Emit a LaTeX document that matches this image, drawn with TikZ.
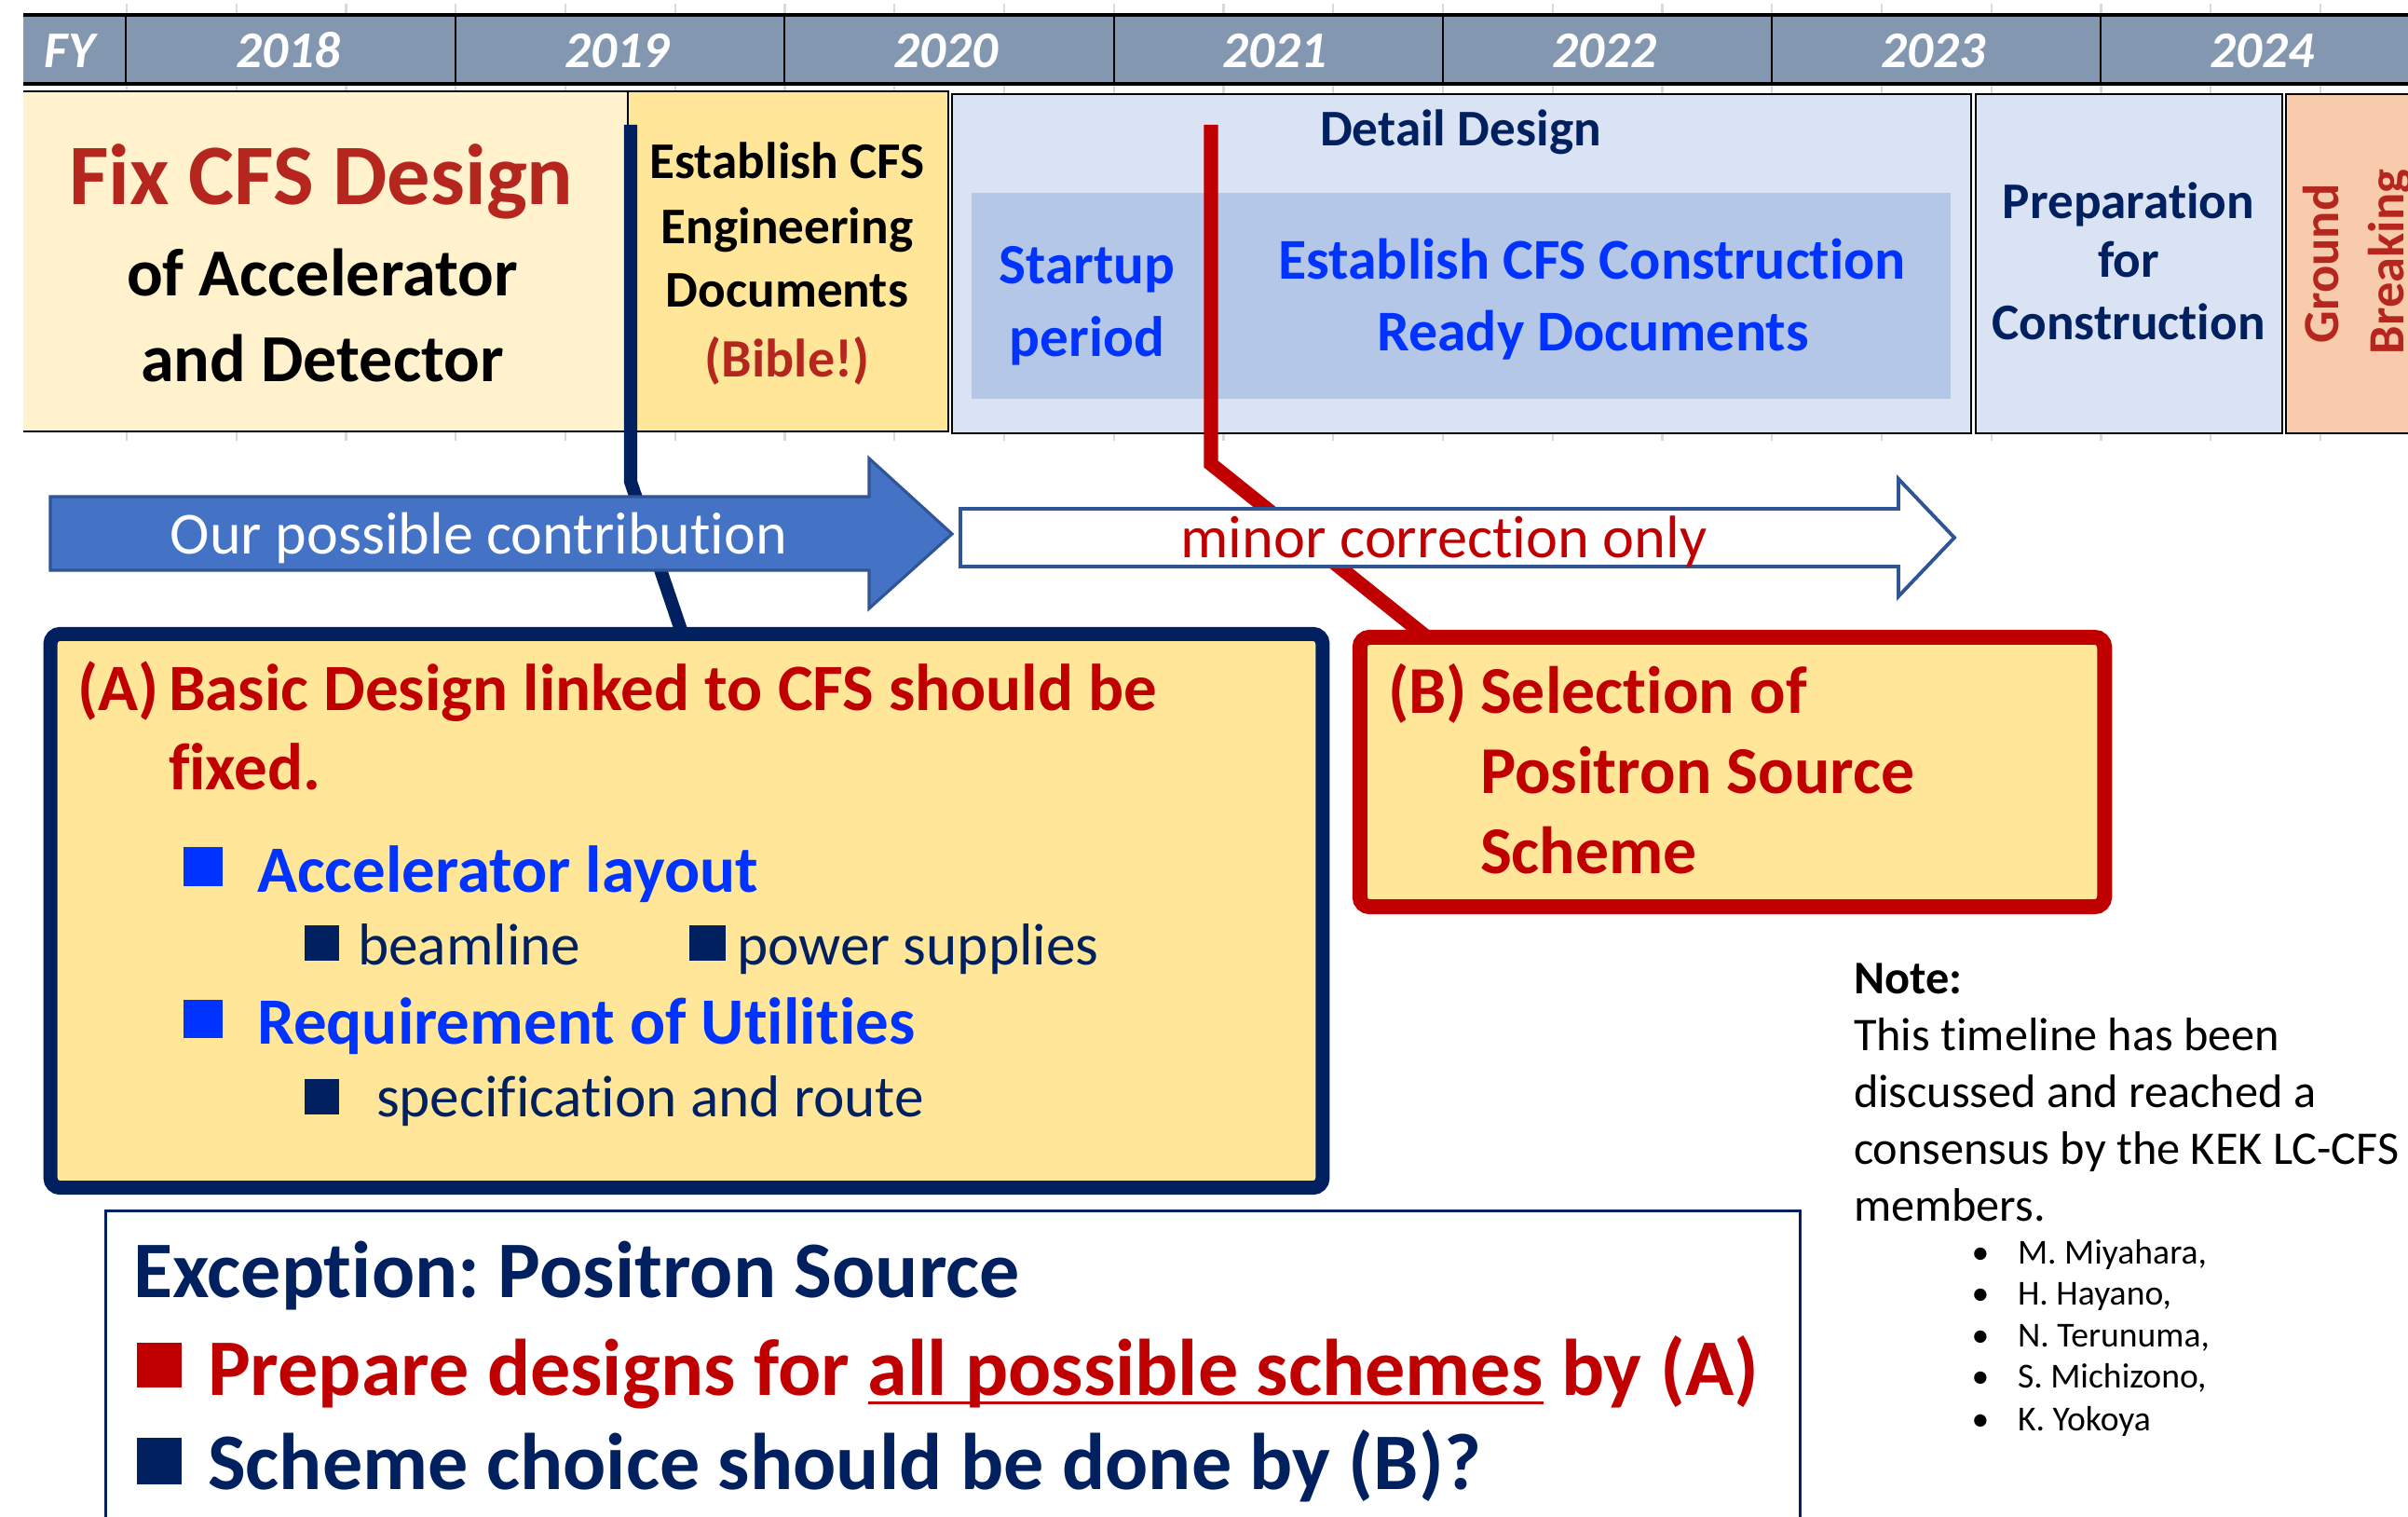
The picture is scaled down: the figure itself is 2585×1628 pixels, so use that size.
\documentclass[tikz,border=0pt]{standalone}
\usepackage{fontspec}
\setmainfont{Carlito}[Ligatures=NoCommon]
\frenchspacing
\definecolor{hdr}{HTML}{8497B0}
\definecolor{cream}{HTML}{FFF2CC}
\definecolor{gold}{HTML}{FFE699}
\definecolor{lblue}{HTML}{DAE3F3}
\definecolor{mblue}{HTML}{B4C7E7}
\definecolor{peach}{HTML}{F8CBAD}
\definecolor{navy}{HTML}{002060}
\definecolor{dred}{HTML}{C00000}
\definecolor{bred}{HTML}{B5261E}
\definecolor{vblue}{HTML}{0033FF}
\definecolor{ablue}{HTML}{4472C4}
\definecolor{aedge}{HTML}{2F5597}
\definecolor{gridc}{HTML}{D9D9D9}
\newcommand\myfs[1]{\fontsize{#1}{#1}\selectfont}
\newcommand\myul[1]{\setbox0\hbox{#1}\rlap{\rule[-2.9pt]{\wd0}{0.9pt}}\box0\relax}
\begin{document}
\begin{tikzpicture}[x=0.01cm,y=-0.01cm,
  txt/.style={inner sep=0pt,outer sep=0pt,anchor=base},
  txl/.style={inner sep=0pt,outer sep=0pt,anchor=base west},
  yr/.style={txt,font=\myfs{15.7}\bfseries\itshape,text=white},
  rowt/.style={txt,font=\myfs{15.7}\bfseries},
  bigt/.style={txl,font=\myfs{20.2}\bfseries},
  subt/.style={txl,font=\myfs{18}},
  botT/.style={txl,font=\myfs{24.5}\bfseries},
  notet/.style={txl,font=\myfs{14.3}},
  namet/.style={txl,font=\myfs{10.7}},
  bult/.style={txt,font=\myfs{10.7}}]
\useasboundingbox (0,0) rectangle (2585,1628);
\fill[white] (0,0) rectangle (2585,1628);
% faint spreadsheet grid
\foreach \k in {0,...,21}{\draw[gridc,line width=0.6pt] ({136+117.75*\k},4) -- ({136+117.75*\k},473);}
% header
\fill[hdr] (25,16) rectangle (2585,90);
\draw[line width=1pt] (25,16) -- (2585,16);
\draw[line width=1.2pt] (25,90) -- (2585,90);
\foreach \x in {135,489,842,1196,1549,1902,2255}{\draw[line width=0.7pt] (\x,16) -- (\x,90);}
\node[yr] (fy) at (75,73) {FY};
\foreach \yy [count=\i from 0] in {2018,...,2024}{\node[yr] (y\yy) at ({309+353.3*\i},73) {\yy};}
% timeline row boxes
\fill[cream] (25,98) rectangle (674,463);
\fill[gold] (674,98) rectangle (1018,463);
\draw[line width=0.7pt] (25,98) -- (1018,98) -- (1018,463) -- (25,463);
\draw[line width=0.5pt] (674,98) -- (674,463);
\filldraw[fill=lblue,line width=0.8pt] (1022,101) rectangle (2116,465);
\fill[mblue] (1043,207) rectangle (2094,428);
\filldraw[fill=lblue,line width=0.8pt] (2121,101) rectangle (2450,465);
\filldraw[fill=peach,line width=0.8pt] (2454,101) rectangle (2600,465);
% row texts
\node[txt,font=\myfs{26.3}\bfseries,text=bred] (fix1) at (345,220) {Fix CFS Design};
\node[txt,font=\myfs{20.5}\bfseries] (fix2) at (346,318) {of Accelerator};
\node[txt,font=\myfs{20.5}\bfseries] (fix3) at (346,410) {and Detector};
\node[rowt] (eng1) at (845,192) {Establish CFS};
\node[rowt] (eng2) at (845,262) {Engineering};
\node[rowt] (eng3) at (845,330) {Documents};
\node[txt,font=\myfs{16.5}\bfseries,text=bred] (eng4) at (845,405) {(Bible!)};
\node[rowt,text=navy] (det) at (1568,157) {Detail Design};
\node[txt,font=\myfs{17.4}\bfseries,text=vblue] (st1) at (1167,305) {Startup};
\node[txt,font=\myfs{17.4}\bfseries,text=vblue] (st2) at (1167,383) {period};
\node[txt,font=\myfs{17.6}\bfseries,text=vblue] (con1) at (1709,300) {Establish CFS Construction};
\node[txt,font=\myfs{17.6}\bfseries,text=vblue] (con2) at (1710,377) {Ready Documents};
\node[rowt,text=navy] (pr1) at (2285,235) {Preparation};
\node[rowt,text=navy] (pr2) at (2285,298) {for};
\node[rowt,text=navy] (pr3) at (2285,365) {Construction};
\node[txt,rotate=90,font=\myfs{15.5}\bfseries,text=bred] (gr1) at (2510,283) {Ground};
\node[txt,rotate=90,font=\myfs{15.5}\bfseries,text=bred] (gr2) at (2580,281) {Breaking};
% connector lines
\coordinate (ntop) at (677,134);
\coordinate (nbend) at (677,517);
\coordinate (nend) at (733,682);
\draw[navy,line width=4pt] (ntop) -- (nbend) -- (nend);
\coordinate (rtop) at (1300,134);
\coordinate (rbend) at (1300,498);
\coordinate (rend) at (1532,684);
\draw[dred,line width=4.3pt] (rtop) -- (rbend) -- (rend);
% arrows
\filldraw[fill=ablue,draw=aedge,line width=0.9pt] (54,533) -- (933,533) -- (933,492) -- (1022,573) -- (933,653) -- (933,612) -- (54,612) -- cycle;
\node[txt,font=\myfs{18.2},text=white] (contrib) at (514,595) {Our possible contribution};
\filldraw[fill=white,draw=aedge,line width=1.1pt] (1031,546) -- (2038,546) -- (2038,514) -- (2098,577) -- (2038,640) -- (2038,608) -- (1031,608) -- cycle;
\node[txt,font=\myfs{18.3},text=dred] (minor) at (1550,599) {minor correction only};
% box A
\node[draw=navy,fill=gold,line width=4.27pt,rounded corners=3pt,minimum width=13.65cm,minimum height=5.94cm,inner sep=0pt] (boxA) at (737,977.5) {};
\node[bigt,text=dred] (aA) at (83,762) {(A)};
\node[bigt,text=dred] (aT1) at (181,762) {Basic Design linked to CFS should be};
\node[bigt,text=dred] (aT2) at (181,847) {fixed.};
\fill[vblue] (197,909) rectangle (239,951);
\node[bigt,text=vblue] (acc) at (276,957) {Accelerator layout};
\fill[navy] (327,993) rectangle (364,1031);
\node[subt,text=navy] (beam) at (384,1035) {beamline};
\fill[navy] (740,993) rectangle (779,1031);
\node[subt,text=navy] (pow) at (791,1035) {power supplies};
\fill[vblue] (197,1073) rectangle (239,1114);
\node[bigt,text=vblue] (req) at (276,1120) {Requirement of Utilities};
\fill[navy] (327,1158) rectangle (364,1196);
\node[subt,text=navy] (spec) at (404,1198) {specification and route};
% box B
\node[draw=dred,fill=gold,line width=4.55pt,rounded corners=3pt,minimum width=7.99cm,minimum height=2.89cm,inner sep=0pt] (boxB) at (1859.5,828.5) {};
\node[txl,font=\myfs{20.4}\bfseries,text=dred] (bB) at (1490,765) {(B)};
\node[txl,font=\myfs{20.4}\bfseries,text=dred] (bT1) at (1589,765) {Selection of};
\node[txl,font=\myfs{20.4}\bfseries,text=dred] (bT2) at (1589,851) {Positron Source};
\node[txl,font=\myfs{20.4}\bfseries,text=dred] (bT3) at (1589,937) {Scheme};
% bottom box
\node[draw=navy,fill=white,line width=0.9pt,minimum width=18.18cm,minimum height=4cm,inner sep=0pt,anchor=north west] (boxC) at (112,1298) {};
\node[botT,font=\myfs{24.5}\bfseries,text=navy] (exc) at (143,1392) {Exception: Positron Source};
\fill[dred] (147,1441) rectangle (195,1489);
\node[botT,text=dred] (prep) at (223,1497) {Prepare designs for \myul{all possible schemes} by (A)};
\fill[navy] (147,1543) rectangle (195,1593);
\node[botT,text=navy] (choice) at (223,1598) {Scheme choice should be done by (B)?};
% note
\node[notet,font=\myfs{14.3}\bfseries] (note) at (1990,1066) {Note:};
\node[notet] (n1) at (1990,1127) {This timeline has been};
\node[notet] (n2) at (1990,1188) {discussed and reached a};
\node[notet] (n3) at (1990,1249) {consensus by the KEK LC-CFS};
\node[notet] (n4) at (1990,1310) {members.};
\node[bult] (bul1) at (2126,1356) {\textbullet};
\node[namet] (nm1) at (2166,1356) {M. Miyahara,};
\node[bult] (bul2) at (2126,1400) {\textbullet};
\node[namet] (nm2) at (2166,1400) {H. Hayano,};
\node[bult] (bul3) at (2126,1445) {\textbullet};
\node[namet] (nm3) at (2166,1445) {N. Terunuma,};
\node[bult] (bul4) at (2126,1489) {\textbullet};
\node[namet] (nm4) at (2166,1489) {S. Michizono,};
\node[bult] (bul5) at (2126,1535) {\textbullet};
\node[namet] (nm5) at (2166,1535) {K. Yokoya};
\end{tikzpicture}
\end{document}
